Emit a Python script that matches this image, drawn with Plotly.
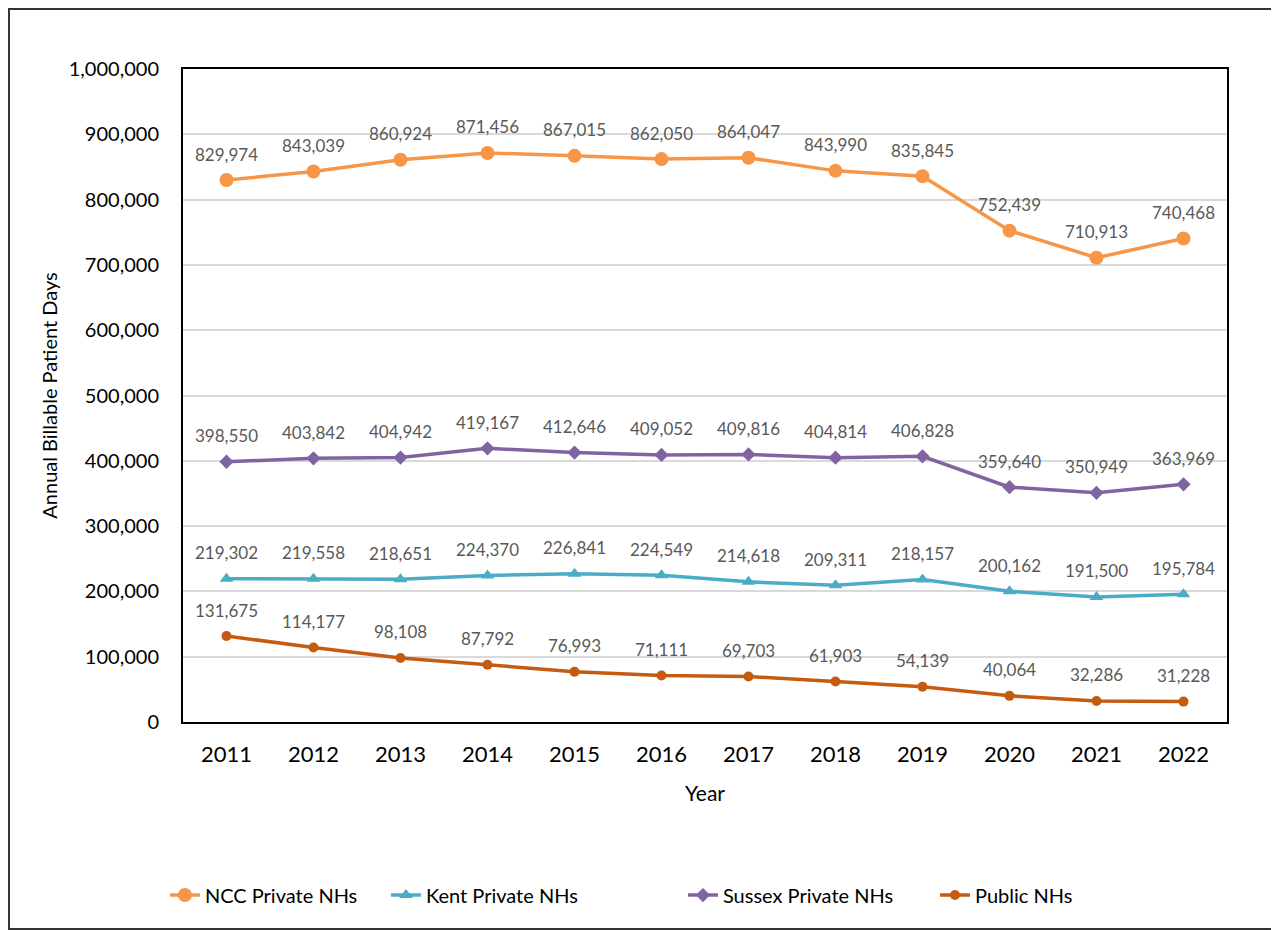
import plotly.graph_objects as go

years = ["2011", "2012", "2013", "2014", "2015", "2016", "2017", "2018", "2019", "2020", "2021", "2022"]
ncc = [829974, 843039, 860924, 871456, 867015, 862050, 864047, 843990, 835845, 752439, 710913, 740468]
kent = [219302, 219558, 218651, 224370, 226841, 224549, 214618, 209311, 218157, 200162, 191500, 195784]
sussex = [398550, 403842, 404942, 419167, 412646, 409052, 409816, 404814, 406828, 359640, 350949, 363969]
public = [131675, 114177, 98108, 87792, 76993, 71111, 69703, 61903, 54139, 40064, 32286, 31228]

series = [
    ("NCC Private NHs", ncc, "#F79646", "circle", 14, "legend", -0.0173),
    ("Kent Private NHs", kent, "#4BACC6", "triangle-up", 12, "legend2", 0.1944),
    ("Sussex Private NHs", sussex, "#8064A2", "diamond", 11, "legend3", 0.4789),
    ("Public NHs", public, "#C55A11", "circle", 10, "legend4", 0.7203),
]

FONT = "Lato, Carlito, Calibri, sans-serif"
fig = go.Figure()
annotations = []
legends = {}
for name, vals, color, sym, size, leg, lx in series:
    fig.add_trace(go.Scatter(
        x=years, y=vals, name=name, mode="lines+markers",
        line=dict(color=color, width=3.5),
        marker=dict(symbol=sym, size=size, color=color),
        legend=leg,
    ))
    legends[leg] = dict(x=lx, xanchor="left", y=-0.265, yanchor="middle",
                        orientation="h", bgcolor="rgba(0,0,0,0)",
                        font=dict(family=FONT, size=20, color="#000000"))
    for i, v in enumerate(vals):
        annotations.append(dict(
            x=i, y=v, xref="x", yref="y", text=f"{v:,}", showarrow=False,
            yshift=26, font=dict(family=FONT, size=17, color="#595959"),
        ))

fig.update_layout(
    width=1271, height=922,
    margin=dict(l=175, r=52, t=61, b=208),
    paper_bgcolor="white", plot_bgcolor="white",
    font=dict(family=FONT, color="#000000"),
    annotations=annotations,
    showlegend=True,
    xaxis=dict(
        type="category",
        showline=True, linecolor="black", linewidth=2, mirror=True,
        showgrid=False, ticks="", ticklabelstandoff=12,
        tickfont=dict(family=FONT, size=22, color="#000000"),
        title=dict(text="Year", font=dict(family=FONT, size=21, color="#000000"), standoff=20),
        range=[-0.5, 11.5],
    ),
    yaxis=dict(
        range=[0, 1000000], dtick=100000, tickformat=",",
        showline=True, linecolor="black", linewidth=2, mirror=True,
        showgrid=True, gridcolor="#D9D9D9", gridwidth=1.5, zeroline=False,
        ticks="", ticklabelstandoff=18,
        tickfont=dict(family=FONT, size=20, color="#000000"),
        title=dict(text="Annual Billable Patient Days", font=dict(family=FONT, size=20, color="#000000"), standoff=6),
    ),
    shapes=[dict(type="rect", xref="paper", yref="paper", x0=-0.1667, x1=1.0488, y0=-0.317, y1=1.0919,
                 line=dict(color="#333333", width=2))],
    **legends,
)

fig.write_html("out.html")
